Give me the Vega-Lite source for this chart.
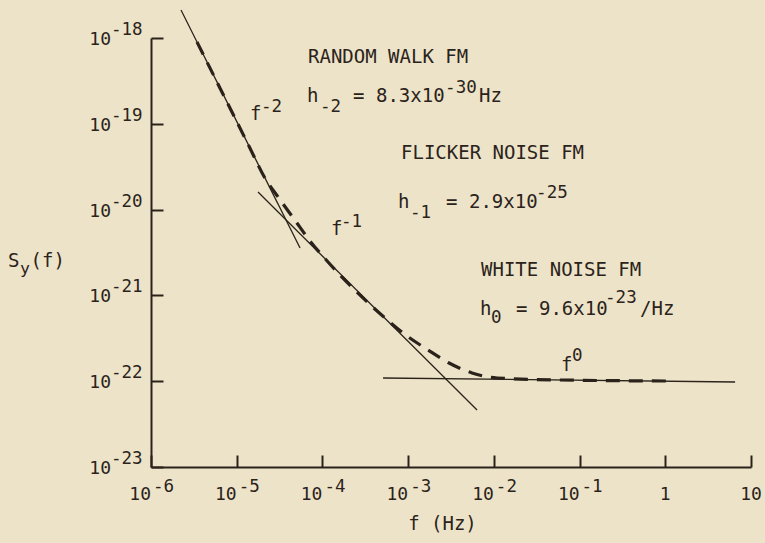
{
  "$schema": "https://vega.github.io/schema/vega-lite/v6.json",
  "width": 600,
  "height": 429,
  "autosize": {"type": "none"},
  "padding": {"left": 151, "top": 38, "right": 14, "bottom": 76},
  "background": "#EDE3C8",
  "config": {
    "view": {"stroke": null},
    "text": {"font": "DejaVu Sans Mono", "color": "#2b231b"}
  },
  "datasets": {
    "lines": [
      {"seg": "f-2", "f": 2.239e-6, "S": 2.118e-18},
      {"seg": "f-2", "f": 5.478e-5, "S": 3.567e-21},
      {"seg": "f-1", "f": 1.772e-5, "S": 1.604e-20},
      {"seg": "f-1", "f": 6.368e-3, "S": 4.616e-23},
      {"seg": "f0", "f": 5.095e-4, "S": 1.090e-22},
      {"seg": "f0", "f": 6.523, "S": 9.788e-23}
    ],
    "curve": [
      {"f": 3.442e-6, "S": 8.98e-19},
      {"f": 1.429e-5, "S": 5.20e-20},
      {"f": 2.139e-5, "S": 2.321e-20},
      {"f": 3.033e-5, "S": 1.403e-20},
      {"f": 4.662e-5, "S": 7.771e-21},
      {"f": 7.166e-5, "S": 4.305e-21},
      {"f": 1.162e-4, "S": 2.451e-21},
      {"f": 5.377e-4, "S": 5.453e-22},
      {"f": 8.720e-4, "S": 3.645e-22},
      {"f": 1.707e-3, "S": 2.310e-22},
      {"f": 3.001e-3, "S": 1.630e-22},
      {"f": 5.567e-3, "S": 1.246e-22},
      {"f": 1.090e-2, "S": 1.090e-22},
      {"f": 5.922e-2, "S": 1.033e-22},
      {"f": 1.200, "S": 1.005e-22}
    ],
    "notes": [
      {"label": "RANDOM WALK FM", "role": "main", "f": 6.79e-5, "S": 5.11e-19},
      {"label": "h", "role": "main", "f": 6.61e-5, "S": 1.795e-19},
      {"label": "-2", "role": "script", "f": 9.38e-5, "S": 1.372e-19},
      {"label": "= 8.3x10", "role": "main", "f": 2.28e-4, "S": 1.795e-19},
      {"label": "-30", "role": "script", "f": 2.70e-3, "S": 2.286e-19},
      {"label": "Hz", "role": "main", "f": 6.72e-3, "S": 1.795e-19},
      {"label": "f", "role": "main", "f": 1.43e-5, "S": 1.107e-19},
      {"label": "-2", "role": "script", "f": 1.92e-5, "S": 1.372e-19},
      {"label": "FLICKER NOISE FM", "role": "main", "f": 8.26e-4, "S": 3.89e-20},
      {"label": "h", "role": "main", "f": 7.62e-4, "S": 1.044e-20},
      {"label": "-1", "role": "script", "f": 1.052e-3, "S": 7.98e-21},
      {"label": "= 2.9x10", "role": "main", "f": 2.77e-3, "S": 1.044e-20},
      {"label": "-25", "role": "script", "f": 3.11e-2, "S": 1.365e-20},
      {"label": "f", "role": "main", "f": 1.26e-4, "S": 5.06e-21},
      {"label": "-1", "role": "script", "f": 1.648e-4, "S": 6.27e-21},
      {"label": "WHITE NOISE FM", "role": "main", "f": 7.09e-3, "S": 1.683e-21},
      {"label": "h", "role": "main", "f": 6.90e-3, "S": 5.91e-22},
      {"label": "0", "role": "script", "f": 9.28e-3, "S": 4.77e-22},
      {"label": "= 9.6x10", "role": "main", "f": 1.816e-2, "S": 5.91e-22},
      {"label": "-23", "role": "script", "f": 0.1984, "S": 8.15e-22},
      {"label": "/Hz", "role": "main", "f": 0.5082, "S": 5.91e-22},
      {"label": "f", "role": "main", "f": 6.08e-2, "S": 1.315e-22},
      {"label": "0", "role": "script", "f": 8.18e-2, "S": 1.719e-22}
    ],
    "xticks": [
      {"f": 1e-6, "base": "10", "exp": "-6"},
      {"f": 1e-5, "base": "10", "exp": "-5"},
      {"f": 1e-4, "base": "10", "exp": "-4"},
      {"f": 1e-3, "base": "10", "exp": "-3"},
      {"f": 1e-2, "base": "10", "exp": "-2"},
      {"f": 1e-1, "base": "10", "exp": "-1"},
      {"f": 1, "base": "1", "exp": ""},
      {"f": 10, "base": "10", "exp": ""}
    ],
    "yticks": [
      {"S": 1e-18, "base": "10", "exp": "-18"},
      {"S": 1e-19, "base": "10", "exp": "-19"},
      {"S": 1e-20, "base": "10", "exp": "-20"},
      {"S": 1e-21, "base": "10", "exp": "-21"},
      {"S": 1e-22, "base": "10", "exp": "-22"},
      {"S": 1e-23, "base": "10", "exp": "-23"}
    ]
  },
  "layer": [
    {
      "data": {"name": "lines"},
      "mark": {"type": "line", "color": "#2b231b", "strokeWidth": 1.3},
      "encoding": {
        "x": {
          "field": "f", "type": "quantitative",
          "scale": {"type": "log", "domain": [1e-6, 10], "nice": false},
          "axis": {
            "values": [1e-6, 1e-5, 1e-4, 1e-3, 1e-2, 1e-1, 1, 10],
            "labels": false, "title": null, "grid": false,
            "tickSize": -12, "tickWidth": 2, "tickColor": "#2b231b",
            "domainColor": "#2b231b", "domainWidth": 2
          }
        },
        "y": {
          "field": "S", "type": "quantitative",
          "scale": {"type": "log", "domain": [1e-23, 1e-18], "nice": false},
          "axis": {
            "values": [1e-23, 1e-22, 1e-21, 1e-20, 1e-19, 1e-18],
            "labels": false, "title": null, "grid": false,
            "tickSize": -12, "tickWidth": 2, "tickColor": "#2b231b",
            "domainColor": "#2b231b", "domainWidth": 2
          }
        },
        "detail": {"field": "seg"}
      }
    },
    {
      "data": {"name": "curve"},
      "mark": {"type": "line", "color": "#2b231b", "strokeWidth": 3.2, "strokeDash": [14, 9], "interpolate": "monotone"},
      "encoding": {
        "x": {"field": "f", "type": "quantitative"},
        "y": {"field": "S", "type": "quantitative"}
      }
    },
    {
      "data": {"name": "notes"},
      "transform": [{"filter": "datum.role == 'main'"}],
      "mark": {"type": "text", "align": "left", "baseline": "alphabetic", "fontSize": 19},
      "encoding": {
        "x": {"field": "f", "type": "quantitative"},
        "y": {"field": "S", "type": "quantitative"},
        "text": {"field": "label"}
      }
    },
    {
      "data": {"name": "notes"},
      "transform": [{"filter": "datum.role == 'script'"}],
      "mark": {"type": "text", "align": "left", "baseline": "alphabetic", "fontSize": 17.5},
      "encoding": {
        "x": {"field": "f", "type": "quantitative"},
        "y": {"field": "S", "type": "quantitative"},
        "text": {"field": "label"}
      }
    },
    {
      "data": {"name": "xticks"},
      "transform": [{"filter": "datum.exp != ''"}],
      "mark": {"type": "text", "align": "right", "baseline": "alphabetic", "fontSize": 18, "dy": 33},
      "encoding": {
        "x": {"field": "f", "type": "quantitative"},
        "y": {"datum": 1e-23, "type": "quantitative"},
        "text": {"field": "base"}
      }
    },
    {
      "data": {"name": "xticks"},
      "transform": [{"filter": "datum.exp != ''"}],
      "mark": {"type": "text", "align": "left", "baseline": "alphabetic", "fontSize": 17.5, "dx": 2, "dy": 25},
      "encoding": {
        "x": {"field": "f", "type": "quantitative"},
        "y": {"datum": 1e-23, "type": "quantitative"},
        "text": {"field": "exp"}
      }
    },
    {
      "data": {"name": "xticks"},
      "transform": [{"filter": "datum.exp == ''"}],
      "mark": {"type": "text", "align": "center", "baseline": "alphabetic", "fontSize": 18, "dy": 33},
      "encoding": {
        "x": {"field": "f", "type": "quantitative"},
        "y": {"datum": 1e-23, "type": "quantitative"},
        "text": {"field": "base"}
      }
    },
    {
      "data": {"name": "yticks"},
      "mark": {"type": "text", "align": "right", "baseline": "alphabetic", "fontSize": 18, "dx": -40, "dy": 7},
      "encoding": {
        "x": {"datum": 1e-6, "type": "quantitative"},
        "y": {"field": "S", "type": "quantitative"},
        "text": {"field": "base"}
      }
    },
    {
      "data": {"name": "yticks"},
      "mark": {"type": "text", "align": "left", "baseline": "alphabetic", "fontSize": 17.5, "dx": -40, "dy": -3},
      "encoding": {
        "x": {"datum": 1e-6, "type": "quantitative"},
        "y": {"field": "S", "type": "quantitative"},
        "text": {"field": "exp"}
      }
    },
    {
      "data": {"values": [{"t": "S"}]},
      "mark": {"type": "text", "align": "left", "baseline": "alphabetic", "fontSize": 19, "dx": -143, "dy": -28.4},
      "encoding": {
        "x": {"datum": 1e-6, "type": "quantitative"},
        "y": {"datum": 1e-21, "type": "quantitative"},
        "text": {"field": "t"}
      }
    },
    {
      "data": {"values": [{"t": "y"}]},
      "mark": {"type": "text", "align": "left", "baseline": "alphabetic", "fontSize": 16.5, "dx": -131, "dy": -21.4},
      "encoding": {
        "x": {"datum": 1e-6, "type": "quantitative"},
        "y": {"datum": 1e-21, "type": "quantitative"},
        "text": {"field": "t"}
      }
    },
    {
      "data": {"values": [{"t": "(f)"}]},
      "mark": {"type": "text", "align": "left", "baseline": "alphabetic", "fontSize": 19, "dx": -120.5, "dy": -28.4},
      "encoding": {
        "x": {"datum": 1e-6, "type": "quantitative"},
        "y": {"datum": 1e-21, "type": "quantitative"},
        "text": {"field": "t"}
      }
    },
    {
      "data": {"values": [{"t": "f (Hz)"}]},
      "mark": {"type": "text", "align": "left", "baseline": "alphabetic", "fontSize": 19, "dx": 0, "dy": 63},
      "encoding": {
        "x": {"datum": 1e-3, "type": "quantitative"},
        "y": {"datum": 1e-23, "type": "quantitative"},
        "text": {"field": "t"}
      }
    }
  ]
}
